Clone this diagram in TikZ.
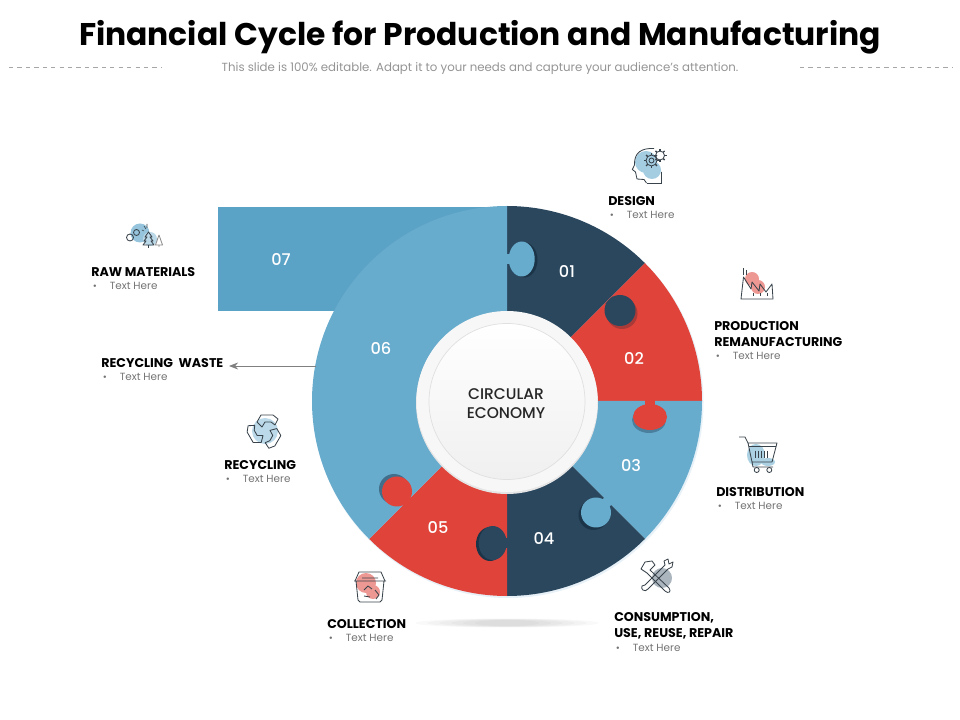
\documentclass[tikz,border=0pt]{standalone}
\usepackage{fontspec}
\setmainfont{Poppins}
\newfontfamily\medfont{Poppins Medium}
\usetikzlibrary{arrows.meta}
\definecolor{navy}{HTML}{2A475E}
\definecolor{navyd}{HTML}{1C3447}
\definecolor{redp}{HTML}{E0433A}
\definecolor{redd}{HTML}{A93A38}
\definecolor{bluep}{HTML}{67ABCD}
\definecolor{bluer}{HTML}{5AA2C6}
\definecolor{blued}{HTML}{4A7F9E}
\definecolor{inkc}{HTML}{39434B}
\newcommand{\txthere}{\makebox[13.2pt][l]{\hspace{1.2pt}\scriptsize\textbullet}Text Here}

\begin{document}
\begin{tikzpicture}[x=0.025cm,y=-0.025cm,
  head text/.style={font=\bfseries\fontsize{9}{11.4}\selectfont,text=black,anchor=west,inner sep=0pt,align=left},
  sub text/.style={font=\fontsize{7.4}{9}\selectfont,text=black!55,anchor=west,inner sep=0pt},
  num text/.style={font=\medfont\fontsize{11.5}{13}\selectfont,text=white,inner sep=0pt},
  icon/.style={draw=inkc,line width=0.6pt,line join=round},
  neck/.style={line width=0.25cm}]

  \useasboundingbox (0,0) rectangle (960,720);
  \coordinate (cc) at (507,401);

  % header
  \node[inner sep=0pt,font=\bfseries\fontsize{22.3}{26}\selectfont] (title) at (480,37) {Financial Cycle for Production and Manufacturing};
  \node[inner sep=0pt,font=\fontsize{8.37}{10}\selectfont,text=black!42] (subtitle) at (480,69) {This slide is 100\% editable. Adapt it to your needs and capture your audience's attention.};
  \draw[black!35,dashed,line width=0.4pt] (9,67) -- (161,67);
  \draw[black!35,dashed,line width=0.4pt] (800,67) -- (952,67);

  % wheel
  \fill[bluer] (218,207) rectangle (507,311);
  \fill[bluep!16!white] (508,402.5) circle (195.5);
  \fill[navy] (cc) -- ++(-90:195) arc (-90:-45:195) -- cycle;
  \fill[redp] (cc) -- ++(-45:195) arc (-45:0:195) -- cycle;
  \fill[bluep] (cc) -- ++(0:195) arc (0:45:195) -- cycle;
  \fill[navy] (cc) -- ++(45:195) arc (45:90:195) -- cycle;
  \fill[redp] (cc) -- ++(90:195) arc (90:135:195) -- cycle;
  \fill[bluep] (cc) -- ++(135:195) arc (135:270:195) -- cycle;

  % knobs
  \fill[navyd] (524.5,260) ellipse (13 and 17.5);
  \fill[bluep] (521.7,259) ellipse (13 and 17.5);
  \draw[bluep,neck] (505,259) -- (515,259);
  \fill[redd] (622,313.5) circle (15.5);
  \fill[navy] (620,310.5) circle (15.5);
  \draw[navy,neck] (609,300) -- (620,311);
  \fill[blued] (649,420) ellipse (17 and 13);
  \fill[redp] (650,417) ellipse (17 and 13);
  \draw[redp,neck] (650,400) -- (650,412);
  \fill[navyd] (593.5,515) circle (15);
  \fill[bluep] (596,512.5) circle (15);
  \draw[bluep,neck] (609,500) -- (597,512);
  \fill[navyd] (490,544) ellipse (14 and 17);
  \fill[navy] (492.7,543) ellipse (14 and 17);
  \draw[navy,neck] (509,543) -- (498,543);
  \fill[blued!70!navy] (394,489) circle (15);
  \fill[redp] (397,491.5) circle (15);
  \draw[redp,neck] (410,505) -- (398,493);

  % centre
  \fill[black!10] (507,403) circle (91);
  \fill[black!3] (507,401.5) circle (90.5);
  \draw[black!12,line width=0.5pt,top color=white,bottom color=black!6] (507,401.5) circle (78);
  \node[inner sep=0pt,align=center,text=black!85,font=\medfont\fontsize{11}{13.6}\selectfont] (centre) at (506,404) {CIRCULAR\\ECONOMY};

  % numbers
  \node[num text] (n1) at (567,272) {01};
  \node[num text] (n2) at (634,358) {02};
  \node[num text] (n3) at (631,466) {03};
  \node[num text] (n4) at (544,539) {04};
  \node[num text] (n5) at (438,528) {05};
  \node[num text] (n6) at (381,348) {06};
  \node[num text] (n7) at (281,260) {07};

  % labels
  \node[head text] (design) at (608,201) {DESIGN};
  \node[sub text] (designsub) at (608,214.5) {\txthere};
  \node[head text] (prod) at (714,334) {PRODUCTION\\REMANUFACTURING};
  \node[sub text] (prodsub) at (714,355.5) {\txthere};
  \node[head text] (dist) at (716,492) {DISTRIBUTION};
  \node[sub text] (distsub) at (716,505.5) {\txthere};
  \node[head text] (cons) at (614,626) {CONSUMPTION,\\USE, REUSE, REPAIR};
  \node[sub text] (conssub) at (614,647.5) {\txthere};
  \node[head text] (coll) at (327,624) {COLLECTION};
  \node[sub text] (collsub) at (327,637.5) {\txthere};
  \node[head text] (recy) at (224,465) {RECYCLING};
  \node[sub text] (recysub) at (224,478.5) {\txthere};
  \node[head text] (waste) at (101,363) {RECYCLING\hspace{2pt} WASTE};
  \node[sub text] (wastesub) at (101,376.5) {\txthere};
  \node[head text] (raw) at (91,272) {RAW MATERIALS};
  \node[sub text] (rawsub) at (91,285.5) {\txthere};

  \coordinate (wasteout) at (316,366);
  \coordinate (wastetip) at (229,366);
  \draw[-{Stealth[length=6.5pt,width=5pt]},black!50,line width=0.6pt] (wasteout) -- (wastetip);

  % floor shadow
  \foreach \w/\h in {92/4.5,80/4.2,68/3.9,56/3.6,44/3.3,32/3}{
    \fill[black,opacity=0.025] (507,623) ellipse [x radius=\w,y radius=\h];
  }

  % icon design
  \fill[bluep!60!white] (646,162) circle (11);
  \fill[bluep!60!white] (652,170) circle (9);
  \draw[icon] (661.5,183) -- (661.5,172) (646.5,183) -- (644,179.5) -- (637,179) -- (635.5,172) -- (632.3,169.5) -- (634.5,165) .. controls (634,152) and (642,148) .. (654,148.5);
  \draw[icon] (646.5,183) -- (661.5,183);
  \draw[icon] (651.5,160.5) circle (5.5) (651.5,160.5) circle (2.5) (660,155.5) circle (4.5);
  \foreach \a in {0,45,...,315}{
    \draw[icon,line width=1pt] (651.5,160.5) ++(\a:5.5) -- ++(\a:2.2);
    \draw[icon,line width=1pt] (660,155.5) ++(\a:4.5) -- ++(\a:2);
  }

  % icon factory
  \fill[redp!55!white] (752,279) circle (7);
  \fill[redp!55!white] (758,287) circle (7);
  \draw[icon] (741,299) -- (743.5,277) -- (751,289) -- (752,282) -- (759,291) -- (760,284) -- (766,292) -- (772,284) -- (773,299) -- cycle;
  \draw[icon] (743,268) -- (743,275) (746,270) -- (746,275);
  \draw[icon] (753,293) -- (753,296) (760,293) -- (760,296) (767,293) -- (767,296);

  % icon cart
  \fill[bluep!55!white] (756,455) ellipse (9 and 11);
  \fill[bluep!55!white] (768,462) ellipse (7 and 4);
  \draw[icon] (739,437) -- (745,437) -- (748,443) -- (777,443) -- (772,462) -- (752,462) -- (748,443) (752,462) -- (753,467) -- (773,467);
  \draw[icon] (749,446) -- (776,446);
  \draw[icon] (756.7,470) circle (2.5) (769.3,470) circle (2.5);
  \draw[icon] (755,451) -- (755,458) (758,451) -- (758,458) (761,451) -- (761,458) (764,451) -- (764,458) (767,451) -- (767,458);

  % icon tools
  \fill[navy!40!white] (662,578) circle (10);
  \draw[icon] (645,585) -- (665,565) -- (664,561) -- (668,559) -- (669,564) -- (673,562) -- (672,567) -- (668,569) -- (648,589) .. controls (645,593) and (640,589) .. (642,586) -- cycle;
  \draw[icon] (650,570) -- (669,588) .. controls (672,592) and (668,594) .. (665,591) -- (647,573) -- (641,569) -- (645,562) -- (652,561) -- (655,565) -- cycle;

  % icon bucket
  \fill[redp!55!white] (366,583) circle (10);
  \fill[redp!55!white] (373,592) circle (7);
  \draw[icon] (354,581) -- (386,581) (356,581) -- (358,600) -- (360,602) -- (380,602) -- (382,600) -- (384,581);
  \draw[icon] (355,581) -- (359,572) -- (381,572) -- (385,581) (362,578) -- (378,578);
  \draw[icon] (364,590) -- (368,586) -- (372,589) (375,590) -- (379,595) -- (376,599) (370,597) -- (364,596);

  % icon recycling
  \fill[bluep!45!white] (265,431) circle (13);
  \foreach \a in {0,120,240}{
    \draw[icon,rotate around={\a:(265,431)}] (257,422) -- (261,415) -- (273,415) -- (278,419) -- (275,425) -- (271,422) -- (265,422) -- (262,427) -- cycle;
  }

  % icon raw materials
  \fill[bluep!70!white] (140,233) circle (9.5);
  \fill[bluep!45!white] (150,239) circle (7);
  \draw[icon] (130,237.5) circle (3.5) (136.5,232.5) circle (3);
  \draw[icon] (148.5,232) -- (145,237) -- (147,237) -- (144,241) -- (146,241) -- (143,245) -- (154,245) -- (151,241) -- (153,241) -- (150,237) -- (152,237) -- cycle (148.5,245) -- (148.5,248);
  \draw[icon,black!45] (159,235) -- (155.5,245) -- (162.5,245) -- cycle (159,245) -- (159,247);
  \draw[icon,line width=0.4pt] (144,226) -- (146,229) (147,224) -- (147,228) (142,230) -- (144,231);
\end{tikzpicture}
\end{document}
